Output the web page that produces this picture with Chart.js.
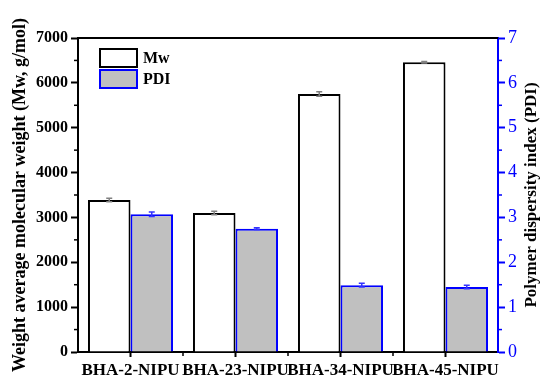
<!DOCTYPE html>
<html>
<head>
<meta charset="utf-8">
<script src="https://cdn.jsdelivr.net/npm/chart.js@4"></script>
<style>
  html, body { margin: 0; padding: 0; background: #fff; }
  #wrap { width: 541px; height: 376px; }
</style>
</head>
<body>
<div id="wrap"><canvas id="mwChart"></canvas></div>
<script>
// data
const categories = ['BHA-2-NIPU', 'BHA-23-NIPU', 'BHA-34-NIPU', 'BHA-45-NIPU'];
const mwValues = [3390, 3100, 5750, 6460];
const mwErrors = [40, 40, 50, 15];
const pdiValues = [3.07, 2.75, 1.49, 1.45];
const pdiErrors = [0.05, 0.02, 0.04, 0.04];
const mwTicks = [0, 1000, 2000, 3000, 4000, 5000, 6000, 7000];
const pdiTicks = [0, 1, 2, 3, 4, 5, 6, 7];

const SERIF = '"Liberation Serif", "Times New Roman", serif';
const BLUE = '#0000ff';
const rightTitle = 'Polymer dispersity index (PDI)';

// frame top, minor ticks, error bars, right title and in-plot legend
const extrasPlugin = {
  id: 'extras',
  afterDatasetsDraw(chart) {
    const { ctx, chartArea, scales } = chart;
    const x = scales.x, y = scales.y, y1 = scales.y1;
    ctx.save();

    // error bars
    const errs = [mwErrors, pdiErrors];
    const cols = ['#808080', '#3333ff'];
    chart.data.datasets.forEach((ds, di) => {
      const meta = chart.getDatasetMeta(di);
      const sc = scales[ds.yAxisID];
      meta.data.forEach((bar, i) => {
        const v = ds.data[i], e = errs[di][i];
        const yTop = sc.getPixelForValue(v + e);
        const yBot = sc.getPixelForValue(v - e);
        ctx.strokeStyle = cols[di];
        ctx.lineWidth = 1.5;
        ctx.beginPath();
        ctx.moveTo(bar.x, yTop); ctx.lineTo(bar.x, yBot);
        ctx.moveTo(bar.x - 3, yTop); ctx.lineTo(bar.x + 3, yTop);
        ctx.moveTo(bar.x - 3, yBot); ctx.lineTo(bar.x + 3, yBot);
        ctx.stroke();
      });
    });

    // top frame line
    ctx.strokeStyle = '#000';
    ctx.lineWidth = 2;
    ctx.beginPath();
    ctx.moveTo(chartArea.left - 1, chartArea.top);
    ctx.lineTo(chartArea.right, chartArea.top);
    ctx.stroke();

    // minor ticks
    ctx.lineWidth = 1.5;
    for (let i = 0; i < mwTicks.length - 1; i++) {
      const py = y.getPixelForValue((mwTicks[i] + mwTicks[i + 1]) / 2);
      ctx.strokeStyle = '#000';
      ctx.beginPath(); ctx.moveTo(chartArea.left, py); ctx.lineTo(chartArea.left - 4, py); ctx.stroke();
      const py1 = y1.getPixelForValue((pdiTicks[i] + pdiTicks[i + 1]) / 2);
      ctx.strokeStyle = BLUE;
      ctx.beginPath(); ctx.moveTo(chartArea.right, py1); ctx.lineTo(chartArea.right + 4, py1); ctx.stroke();
    }
    ctx.strokeStyle = '#000';
    for (let i = 0; i < categories.length - 1; i++) {
      const px = (x.getPixelForValue(i) + x.getPixelForValue(i + 1)) / 2;
      ctx.beginPath(); ctx.moveTo(px, chartArea.bottom); ctx.lineTo(px, chartArea.bottom + 4); ctx.stroke();
    }

    // right axis title, reads bottom to top like the left one
    ctx.save();
    ctx.translate(y1.right - 9, (chartArea.top + chartArea.bottom) / 2);
    ctx.rotate(-Math.PI / 2);
    ctx.font = 'bold 17px ' + SERIF;
    ctx.fillStyle = '#000';
    ctx.textAlign = 'center';
    ctx.textBaseline = 'middle';
    ctx.fillText(rightTitle, 0, 0);
    ctx.restore();

    // legend
    ctx.font = 'bold 16px ' + SERIF;
    ctx.textBaseline = 'middle';
    ctx.textAlign = 'left';
    chart.data.datasets.forEach((ds, di) => {
      const bx = chartArea.left + 22, by = chartArea.top + 11 + di * 21;
      ctx.fillStyle = ds.backgroundColor;
      ctx.fillRect(bx, by, 37, 18);
      ctx.strokeStyle = ds.borderColor;
      ctx.lineWidth = 2;
      ctx.strokeRect(bx, by, 37, 18);
      ctx.fillStyle = '#000';
      ctx.fillText(ds.label, bx + 43, by + 10);
    });
    ctx.restore();
  }
};

new Chart(document.getElementById('mwChart'), {
  type: 'bar',
  data: {
    labels: categories,
    datasets: [
      {
        label: 'Mw',
        data: mwValues,
        yAxisID: 'y',
        backgroundColor: '#ffffff',
        borderColor: '#000000',
        borderWidth: 2,
        categoryPercentage: 0.81,
        barPercentage: 1.0
      },
      {
        label: 'PDI',
        data: pdiValues,
        yAxisID: 'y1',
        backgroundColor: '#c0c0c0',
        borderColor: BLUE,
        borderWidth: 2,
        categoryPercentage: 0.81,
        barPercentage: 1.0
      }
    ]
  },
  options: {
    responsive: true,
    maintainAspectRatio: false,
    animation: false,
    layout: { padding: { top: 38, left: 0, right: 0, bottom: 0 } },
    plugins: {
      legend: { display: false },
      tooltip: { enabled: false }
    },
    scales: {
      x: {
        grid: { offset: false, drawOnChartArea: false, tickLength: 5, tickWidth: 2, tickColor: '#000' },
        border: { color: '#000', width: 2 },
        ticks: {
          autoSkip: false, maxRotation: 0, minRotation: 0, padding: 3,
          color: '#000', font: { family: SERIF, size: 17, weight: 'bold' }
        },
        afterFit(scale) { scale.height = 24; }
      },
      y: {
        position: 'left',
        min: 0, max: 7000,
        afterBuildTicks(scale) { scale.ticks = mwTicks.map(v => ({ value: v })); },
        grid: { drawOnChartArea: false, tickLength: 7, tickWidth: 2, tickColor: '#000' },
        border: { color: '#000', width: 2 },
        ticks: {
          color: '#000', padding: 3,
          font: { family: SERIF, size: 16, weight: 'bold' },
          callback: v => String(v)
        },
        title: {
          display: true,
          text: 'Weight average molecular weight (Mw, g/mol)',
          color: '#000',
          padding: { top: 10, bottom: 0 },
          font: { family: SERIF, size: 18, weight: 'bold' }
        },
        afterFit(scale) { scale.width = 78; }
      },
      y1: {
        position: 'right',
        min: 0, max: 7,
        afterBuildTicks(scale) { scale.ticks = pdiTicks.map(v => ({ value: v })); },
        grid: { drawOnChartArea: false, tickLength: 7, tickWidth: 2, tickColor: BLUE },
        border: { color: BLUE, width: 2 },
        ticks: { color: BLUE, padding: 3, font: { family: SERIF, size: 18 }, callback: v => String(v) },
        afterFit(scale) { scale.width = 43; }
      }
    }
  },
  plugins: [extrasPlugin]
});
</script>
</body>
</html>
